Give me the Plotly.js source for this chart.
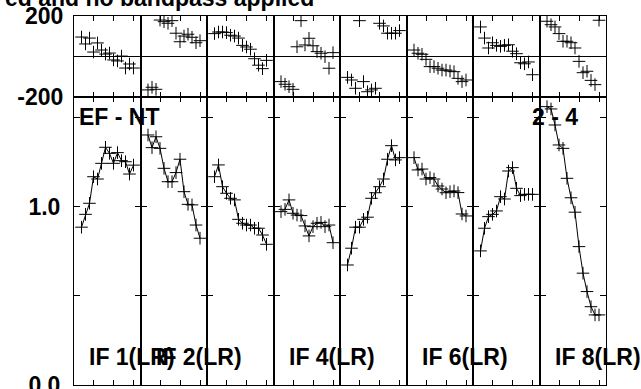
<!DOCTYPE html>
<html>
<head>
<meta charset="utf-8">
<script src="https://cdn.plot.ly/plotly-3.0.1.min.js"></script>
<style>html,body{margin:0;padding:0;background:#fff;}#plot{width:641px;height:389px;}</style>
</head>
<body>
<div id="plot"></div>
<script>
// Channel numbers within each IF
const channels = [1,2,3,4,5,6,7,8,9,10,11,12,13,14];

// IF labels
const ifLabels = ["IF 1(LR)", "IF 2(LR)", "IF 4(LR)", "IF 6(LR)", "IF 8(LR)"];
const ifLabelPanels = [1, 2, 4, 6, 8];

// Amplitude per IF
const ampIF1 = [0.885, 0.957, 1.019, 1.168, 1.155, 1.243, 1.333, 1.299, 1.243, 1.303, 1.258, 1.252, 1.183, 1.233];
const ampIF2 = [1.402, 1.331, 1.392, 1.327, 1.215, 1.140, 1.140, 1.191, 1.266, 1.084, 1.013, 1.010, 0.897, 0.823];
const ampIF3 = [1.168, 1.234, 1.112, 1.075, 1.047, 1.038, 0.929, 0.907, 0.897, 0.897, 0.879, 0.879, 0.841, 0.789];
const ampIF4 = [0.972, 0.985, 1.038, 0.963, 0.953, 0.950, 0.892, 0.836, 0.888, 0.907, 0.912, 0.888, 0.897, 0.798];
const ampIF5 = [0.673, 0.767, 0.885, 0.885, 0.929, 0.941, 1.047, 1.078, 1.112, 1.155, 1.266, 1.342, 1.262, 1.275];
const ampIF6 = [1.275, 1.206, 1.211, 1.155, 1.163, 1.155, 1.116, 1.099, 1.078, 1.084, 1.088, 1.079, 0.959, 0.948];
const ampIF7 = [0.752, 0.879, 0.944, 0.957, 0.976, 1.056, 1.043, 1.200, 1.219, 1.103, 1.062, 1.069, 1.069, 1.069];
const ampIF8 = [1.561, 1.548, 1.458, 1.346, 1.327, 1.159, 1.050, 0.969, 0.776, 0.627, 0.524, 0.439, 0.393, 0.393];

// Phase (degrees) per IF
const phaseIF1 = [96, 62, 91, 22, 67, 32, 12, 17, -17, -22, 2, -57, -37, -57];
const phaseIF2 = [-165, -152, -162, 180, 172, 164, 177, 115, 73, 101, 110, 95, 68, 78];
const phaseIF3 = [113, 121, 121, 118, 105, 101, 91, 55, 47, 36, -11, -43, -60, -19];
const phaseIF4 = [-124, -137, -149, -162, 48, 177, 57, 90, 53, 24, 16, -1, -58, 19];
const phaseIF5 = [-103, -116, -157, 177, -124, -174, -165, -157, 164, 151, 115, 115, 115, 128];
const phaseIF6 = [32, 16, 11, -14, -50, -50, -58, -67, -67, -72, -75, -108, -124, -116];
const phaseIF7 = [146, 91, 42, 68, 55, 50, 55, 58, 26, 14, -31, -36, -27, -90];
const phaseIF8 = [174, 157, 146, 113, 75, 75, 68, 42, -24, -80, -73, -118, -139, 179];

const amps = [ampIF1, ampIF2, ampIF3, ampIF4, ampIF5, ampIF6, ampIF7, ampIF8];
const phases = [phaseIF1, phaseIF2, phaseIF3, phaseIF4, phaseIF5, phaseIF6, phaseIF7, phaseIF8];

const nPanels = 8;
const splitY = 0.7805;
const font = {family: "Liberation Sans, Arial, Helvetica, sans-serif", size: 23, color: "black", weight: "bold"};

const marker = {symbol: "cross-thin", size: 9, color: "black", line: {color: "black", width: 1}};
const traces = [];
const layout = {
  width: 641, height: 389,
  margin: {l: 74, r: 35, t: 16, b: 4, pad: 0},
  paper_bgcolor: "white", plot_bgcolor: "white",
  showlegend: false,
  font: font,
  annotations: []
};

function baseAxis() {
  return {showline: true, linecolor: "black", linewidth: 1, mirror: "ticks",
          ticks: "inside", ticklen: 5, tickcolor: "black", tickwidth: 1,
          showgrid: false, zeroline: false, fixedrange: true, tickfont: font,
          ticklabeloverflow: "allow"};
}

for (let i = 0; i < nPanels; i++) {
  const a = i + 1;      // amplitude subplot index
  const p = i + 9;      // phase subplot index
  const dom = [i / nPanels, (i + 1) / nPanels];
  const sfx = n => (n === 1 ? "" : String(n));

  traces.push({x: channels, y: amps[i], xaxis: "x" + sfx(a), yaxis: "y" + sfx(a),
    type: "scatter", mode: "lines+markers", line: {color: "black", width: 1}, marker: marker});
  traces.push({x: channels, y: phases[i], xaxis: "x" + sfx(p), yaxis: "y" + sfx(p),
    type: "scatter", mode: "markers", marker: marker});

  const xa = Object.assign(baseAxis(), {domain: dom, range: [-0.875, 15.75], tickvals: [4, 9, 14],
    showticklabels: false, anchor: "y" + sfx(a)});
  const ya = Object.assign(baseAxis(), {domain: [0, splitY], range: [0, 1.615],
    tickvals: [0, 0.5, 1, 1.5], ticktext: ["0.0", "", "1.0", ""], ticklen: 6,
    showticklabels: i === 0, ticklabelstandoff: 8, anchor: "x" + sfx(a)});
  const xp = Object.assign(baseAxis(), {domain: dom, range: [-0.875, 15.75], tickvals: [4, 9, 14],
    showticklabels: false, anchor: "y" + sfx(p)});
  const yp = Object.assign(baseAxis(), {domain: [splitY, 1], range: [-200, 200],
    tickvals: [-200, 200], ticktext: ["-200", "200"], ticklen: 0,
    zeroline: true, zerolinecolor: "black", zerolinewidth: 1,
    showticklabels: i === 0, ticklabelstandoff: 5, anchor: "x" + sfx(p)});

  layout["xaxis" + sfx(a)] = xa;
  layout["yaxis" + sfx(a)] = ya;
  layout["xaxis" + sfx(p)] = xp;
  layout["yaxis" + sfx(p)] = yp;
}

// helpers to convert pixel positions to paper coords
const px2x = px => (px - 74) / 532;
const px2y = py => (385 - py) / 369;

layout.annotations.push({text: "ed and no bandpass applied", xref: "paper", yref: "paper",
  x: px2x(316), y: px2y(-2), xanchor: "right", yanchor: "middle", showarrow: false, font: font});
layout.annotations.push({text: "EF - NT", xref: "paper", yref: "paper",
  x: px2x(77), y: px2y(117), xanchor: "left", yanchor: "middle", showarrow: false, font: font});
layout.annotations.push({text: "2 - 4", xref: "paper", yref: "paper",
  x: px2x(555), y: px2y(117), xanchor: "center", yanchor: "middle", showarrow: false, font: font});
ifLabels.forEach((t, k) => {
  const panel = ifLabelPanels[k];
  const centerPx = 74 + (panel - 0.5) * 66.5 + 25;
  layout.annotations.push({text: t, xref: "paper", yref: "paper",
    x: px2x(centerPx), y: px2y(357), xanchor: "center", yanchor: "middle", showarrow: false, font: font});
});

Plotly.newPlot("plot", traces, layout, {staticPlot: true, displayModeBar: false});
</script>
</body>
</html>
